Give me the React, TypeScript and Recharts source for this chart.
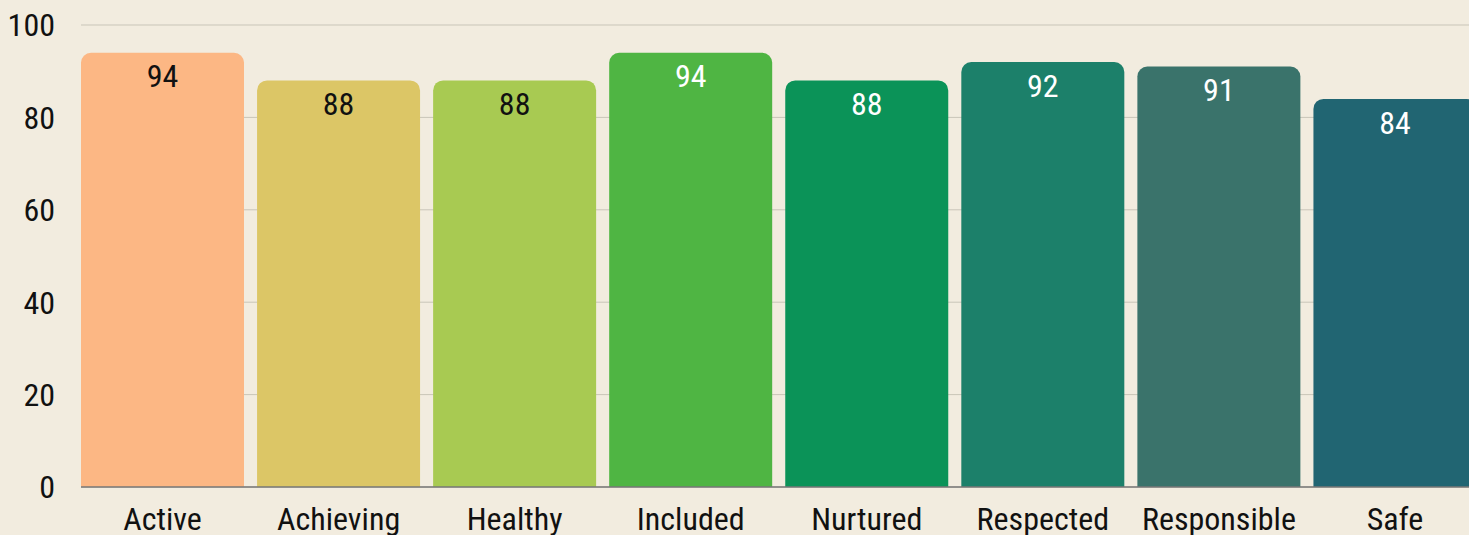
import React from "react";
import { BarChart, Bar, XAxis, YAxis, CartesianGrid, Cell, LabelList } from "recharts";

const categories = ["Active", "Achieving", "Healthy", "Included", "Nurtured", "Respected", "Responsible", "Safe"];
const values = [94, 88, 88, 94, 88, 92, 91, 84];
const barColors = ["#FCB784", "#DCC666", "#A8CA52", "#4FB543", "#0B9358", "#1C806A", "#3A736B", "#216572"];
const labelColors = ["#111111", "#111111", "#111111", "#FFFFFF", "#FFFFFF", "#FFFFFF", "#FFFFFF", "#FFFFFF"];
const yTicks = [0, 20, 40, 60, 80, 100];

const data = categories.map((name, i) => ({ name, value: values[i] }));

const FONT = "'Roboto Condensed', 'Liberation Sans Narrow', 'DejaVu Sans Condensed', Roboto, sans-serif";

const ValueLabel = (props: any) => {
  const { x, y, width, value, index } = props;
  return (
    <text
      x={x + width / 2}
      y={y + 12}
      dy="0.71em"
      textAnchor="middle"
      fill={labelColors[index]}
      fontSize={32}
      fontFamily={FONT}
    >
      {value}
    </text>
  );
};

export default function App() {
  return (
    <div
      style={{
        position: "absolute",
        left: 0,
        top: 0,
        width: 1469,
        height: 535,
        overflow: "hidden",
        background: "#F2ECDF",
      }}
    >
      <BarChart
        width={1483}
        height={560}
        data={data}
        margin={{ top: 25, right: 0, bottom: 0, left: 0 }}
        barCategoryGap={6.5}
      >
        <CartesianGrid vertical={false} stroke="#C9C5B8" strokeWidth={1} />
        <YAxis
          width={81}
          domain={[0, 100]}
          ticks={yTicks}
          tickLine={false}
          axisLine={false}
          tickMargin={20}
          tick={{ fontSize: 32, fill: "#111", fontFamily: FONT }}
        />
        <XAxis
          dataKey="name"
          height={73}
          padding={{ left: -6.5, right: 0 }}
          tickLine={false}
          tickMargin={14}
          axisLine={{ stroke: "#777", strokeWidth: 1.5 }}
          interval={0}
          tick={{ fontSize: 32, fill: "#111", fontFamily: FONT }}
        />
        <Bar dataKey="value" isAnimationActive={false} radius={[10, 10, 0, 0]}>
          {data.map((d, i) => (
            <Cell key={d.name} fill={barColors[i]} />
          ))}
          <LabelList dataKey="value" content={<ValueLabel />} />
        </Bar>
      </BarChart>
    </div>
  );
}
